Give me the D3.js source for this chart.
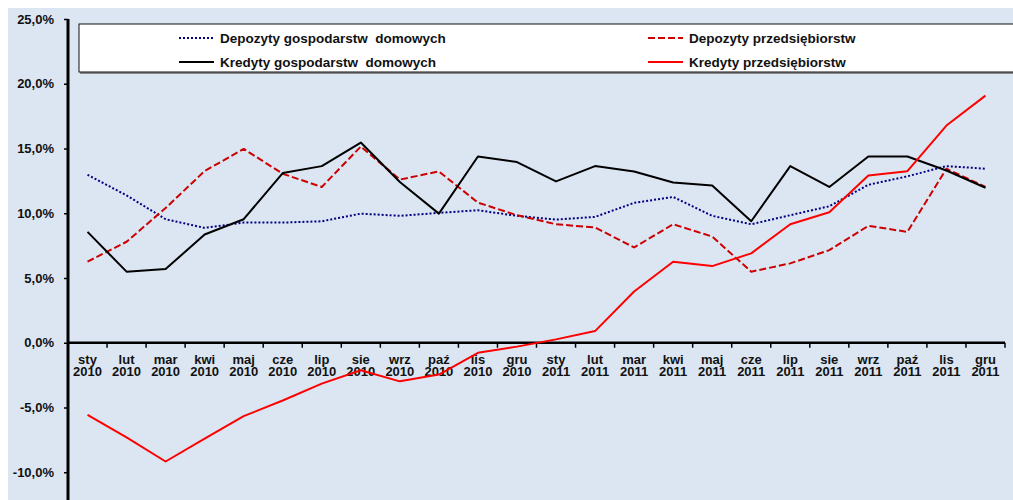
<!DOCTYPE html>
<html>
<head>
<meta charset="utf-8">
<script src="https://cdn.jsdelivr.net/npm/d3@7"></script>
<style>
  body { margin: 0; background: #fff; }
  text { font-family: "Liberation Sans", Arial, sans-serif; font-weight: bold; fill: #111; }
  .axis path, .axis line { stroke: #000; }
</style>
</head>
<body>
<svg width="1013" height="500"></svg>
<script>
// month labels (month, year)
var months = ["sty","lut","mar","kwi","maj","cze","lip","sie","wrz","paź","lis","gru",
              "sty","lut","mar","kwi","maj","cze","lip","sie","wrz","paź","lis","gru"];
var years = ["2010","2010","2010","2010","2010","2010","2010","2010","2010","2010","2010","2010",
             "2011","2011","2011","2011","2011","2011","2011","2011","2011","2011","2011","2011"];

// yoy growth, %
var depGosp = [12.97, 11.38, 9.54, 8.87, 9.28, 9.28, 9.38, 9.97, 9.8, 10.03, 10.23, 9.8,
               9.51, 9.72, 10.8, 11.26, 9.8, 9.15, 9.85, 10.54, 12.2, 12.85, 13.64, 13.44];
var depPrzed = [6.26, 7.8, 10.4, 13.26, 14.97, 13.05, 12.03, 15.15, 12.6, 13.23, 10.82, 9.85,
                9.15, 8.9, 7.36, 9.15, 8.2, 5.49, 6.13, 7.15, 9.03, 8.56, 13.44, 12.03];
var kredGosp = [8.56, 5.49, 5.69, 8.36, 9.54, 13.1, 13.64, 15.46, 12.41, 9.97, 14.38, 13.95,
                12.46, 13.64, 13.23, 12.38, 12.15, 9.38, 13.64, 12.03, 14.38, 14.38, 13.3, 11.97];
var kredPrzed = [-5.57, -7.3, -9.17, -7.4, -5.67, -4.46, -3.16, -2.12, -2.98, -2.46, -0.78, -0.3,
                 0.26, 0.9, 3.96, 6.26, 5.92, 6.9, 9.15, 10.08, 12.92, 13.25, 16.77, 19.08];

var yTicks = [-10, -5, 0, 5, 10, 15, 20, 25];

var series = [
  {name: "Depozyty gospodarstw  domowych", values: depGosp, color: "#000080", dash: "2,2", width: 2},
  {name: "Depozyty przedsiębiorstw", values: depPrzed, color: "#cc0000", dash: "7,3", width: 2},
  {name: "Kredyty gospodarstw  domowych", values: kredGosp, color: "#000", dash: null, width: 2},
  {name: "Kredyty przedsiębiorstw", values: kredPrzed, color: "#ff0000", dash: null, width: 2}
];

var svg = d3.select("svg");
var cats = months.map(function(m, i) { return m + " " + years[i]; });

var x = d3.scaleBand().domain(cats).range([68, 1005]).padding(0);
var y = d3.scaleLinear().domain([-15, 25]).range([537, 19]);

// plot background
svg.append("rect")
    .attr("x", 8).attr("y", 8)
    .attr("width", 1013 - 8).attr("height", 500 - 8)
    .attr("fill", "#dce6f2");

// y axis
var yAxis = svg.append("g")
    .attr("class", "axis")
    .attr("transform", "translate(68,0)")
    .call(d3.axisLeft(y).tickValues(yTicks).tickSize(4).tickPadding(10)
      .tickFormat(function(d) { return d.toFixed(1).replace(".", ",") + "%"; }));
yAxis.select(".domain").attr("stroke-width", 3).attr("d", "M0," + y(25) + "V" + y(-15));
yAxis.selectAll(".tick line").attr("stroke-width", 1.5);
yAxis.selectAll("text").style("font-size", "13px").attr("fill", "#111");

// x axis at zero
var xg = svg.append("g")
    .attr("class", "axis")
    .attr("transform", "translate(0," + y(0) + ")");
xg.append("line")
    .attr("x1", 68).attr("x2", 1005)
    .attr("stroke", "#000").attr("stroke-width", 2.5);
xg.selectAll(".xt")
    .data(cats.slice(1).concat(["end"]))
    .enter().append("line")
    .attr("class", "xt")
    .attr("x1", function(d) { return d === "end" ? 1005 : x(d); })
    .attr("x2", function(d) { return d === "end" ? 1005 : x(d); })
    .attr("y1", 0).attr("y2", 5)
    .attr("stroke", "#000").attr("stroke-width", 1.5);
var lbl = xg.selectAll(".xl")
    .data(cats)
    .enter().append("text")
    .attr("class", "xl")
    .attr("text-anchor", "middle")
    .style("font-size", "13px");
lbl.append("tspan")
    .attr("x", function(d) { return x(d) + x.bandwidth() / 2; })
    .attr("y", 21)
    .text(function(d) { return d.split(" ")[0]; });
lbl.append("tspan")
    .attr("x", function(d) { return x(d) + x.bandwidth() / 2; })
    .attr("y", 33.5)
    .text(function(d) { return d.split(" ")[1]; });

// lines
var line = d3.line()
    .x(function(d, i) { return x(cats[i]) + x.bandwidth() / 2; })
    .y(function(d) { return y(d); });

series.forEach(function(s) {
  svg.append("path")
      .datum(s.values)
      .attr("fill", "none")
      .attr("stroke", s.color)
      .attr("stroke-width", s.width)
      .attr("stroke-dasharray", s.dash)
      .attr("stroke-linejoin", "round")
      .attr("d", line);
});

// legend
var lg = svg.append("g");
lg.append("rect")
    .attr("x", 80).attr("y", 26)
    .attr("width", 940).attr("height", 48)
    .attr("fill", "#888");
lg.append("rect")
    .attr("x", 79).attr("y", 24)
    .attr("width", 940).attr("height", 48)
    .attr("fill", "#fff").attr("stroke", "#111").attr("stroke-width", 1);

var legPos = [[179, 38], [648, 38], [179, 62], [648, 62]];
series.forEach(function(s, i) {
  var p = legPos[i];
  lg.append("line")
      .attr("x1", p[0]).attr("x2", p[0] + 35)
      .attr("y1", p[1]).attr("y2", p[1])
      .attr("stroke", s.color).attr("stroke-width", s.width)
      .attr("stroke-dasharray", s.dash);
  lg.append("text")
      .attr("x", p[0] + 41).attr("y", p[1] + 4.5)
      .style("font-size", "13.5px")
      .style("white-space", "pre")
      .text(s.name);
});
</script>
</body>
</html>
